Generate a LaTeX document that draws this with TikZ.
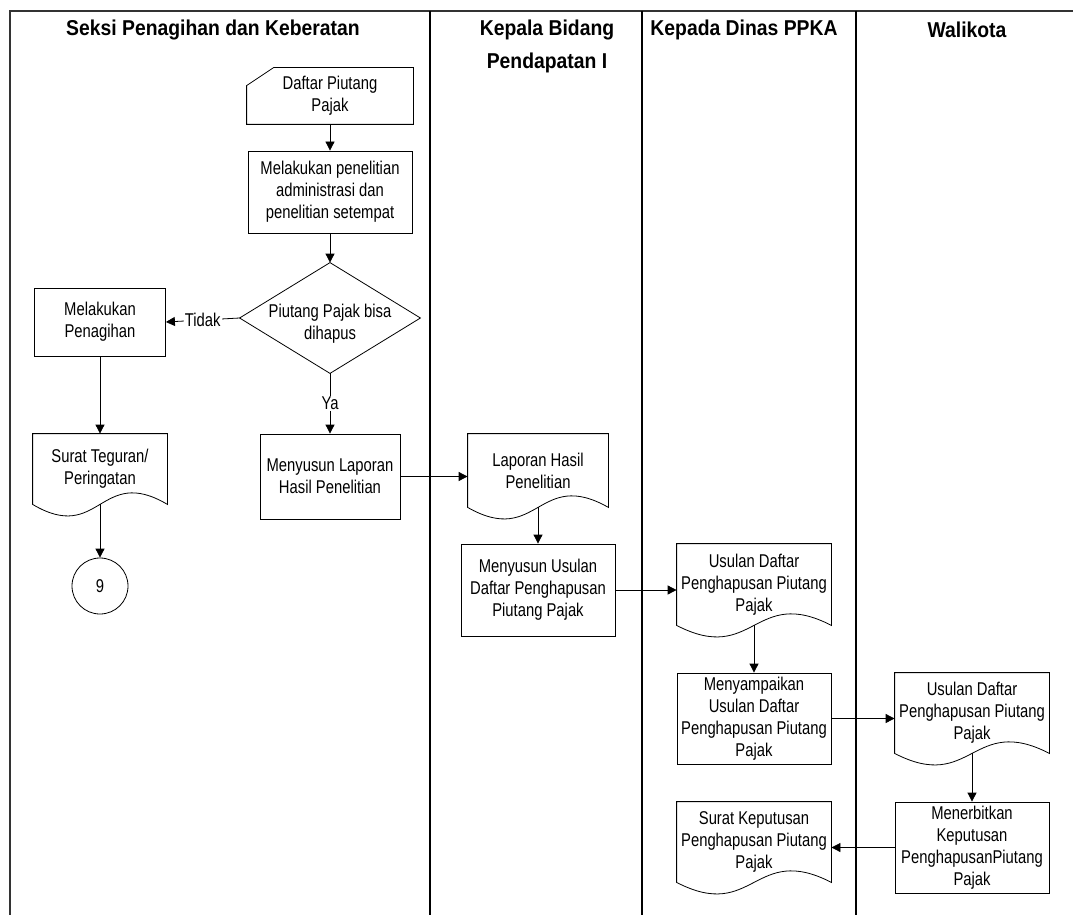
\documentclass[tikz,border=0pt]{standalone}
\usepackage{fontspec}
\setmainfont[FakeStretch=0.8]{Liberation Sans}
\newfontfamily\headfont[FakeStretch=0.9]{Liberation Sans}
\usetikzlibrary{arrows.meta,calc}

% outline of a document symbol drawn round a plain node
\newcommand{\docpath}[1]{%
  \draw (#1.south east) .. controls ($(#1.south)+(0,-40)$) and ($(#1.south)+(0,40)$) .. (#1.south west)
    -- (#1.north west) -- (#1.north east) -- cycle;}

\begin{document}
\begin{tikzpicture}[->, >={Triangle[length=9pt,width=9pt]}, x=1pt, y=-1pt, line width=0.8pt,
  font=\fontsize{18.5}{22}\selectfont]
\tikzstyle{procbox}=[draw, minimum width=154pt, minimum height=92pt, inner sep=0pt, align=center]
\tikzstyle{docbox}=[minimum width=154pt, minimum height=80pt, inner sep=0pt, align=center]
\tikzstyle{lanehead}=[font=\headfont\bfseries\fontsize{21.5}{33}\selectfont, align=center]
\tikzstyle{lbl}=[fill=white, inner sep=1pt]
\useasboundingbox (0,0) rectangle (1073,915);

% swimlanes
\draw[-, line width=1.6pt, black!80] (10,915) -- (10,11) -- (1073,11);
\foreach \x in {430,642,856}
  \draw[-, line width=1.6pt] (\x,11) -- (\x,915);
\node[lanehead] (hseksi) at (213,30) {Seksi Penagihan dan Keberatan};
\node[lanehead] (hkabid) at (547,46.5) {Kepala Bidang\\Pendapatan I};
\node[lanehead] (hdinas) at (744,30) {Kepada Dinas PPKA};
\node[lanehead] (hwali) at (967,30) {Walikota};

% seksi penagihan
\node[docbox, minimum width=166pt, minimum height=56pt] (daftar) at (330,96) {Daftar Piutang\\Pajak};
\draw (daftar.south west) -- ($(daftar.north west)+(0,18)$) -- ($(daftar.north west)+(27,0)$)
  -- (daftar.north east) -- (daftar.south east) -- cycle;
\node[procbox, minimum width=164pt, minimum height=82pt] (teliti) at (330,192) {Melakukan penelitian\\administrasi dan\\penelitian setempat};
\node[minimum width=180pt, minimum height=110pt, inner sep=0pt] (hapus) at (330,318) {};
\draw (hapus.north) -- (hapus.east) -- (hapus.south) -- (hapus.west) -- cycle;
\node[align=center] (hapustxt) at (330,324) {Piutang Pajak bisa\\dihapus};
\node[procbox, minimum width=131pt, minimum height=68pt] (tagih) at (100,322) {Melakukan\\Penagihan};
\node[docbox, minimum width=134pt, minimum height=70pt] (teguran) at (100,469) {Surat Teguran/\\Peringatan};
\docpath{teguran}
\node[draw, circle, minimum size=56pt, inner sep=0pt] (sembilan) at (100,586) {9};
\node[procbox, minimum width=140pt, minimum height=85pt] (susunlap) at (330,476.5) {Menyusun Laporan\\Hasil Penelitian};

% kepala bidang
\node[docbox, minimum width=140pt, minimum height=73pt] (laporan) at (538,470.5) {Laporan Hasil\\Penelitian};
\docpath{laporan}
\node[procbox] (susunusul) at (538,590) {Menyusun Usulan\\Daftar Penghapusan\\Piutang Pajak};

% kepala dinas
\node[docbox, minimum height=81pt] (usuldinas) at (754,584.5) {Usulan Daftar\\Penghapusan Piutang\\Pajak};
\docpath{usuldinas}
\node[procbox, minimum height=91pt] (sampaikan) at (754,718.5) {Menyampaikan\\Usulan Daftar\\Penghapusan Piutang\\Pajak};
\node[docbox] (keputusan) at (754,842) {Surat Keputusan\\Penghapusan Piutang\\Pajak};
\docpath{keputusan}

% walikota
\node[docbox] (usulwali) at (972,713) {Usulan Daftar\\Penghapusan Piutang\\Pajak};
\docpath{usulwali}
\node[procbox, minimum height=91pt] (terbit) at (972,847.5) {Menerbitkan\\Keputusan\\PenghapusanPiutang\\Pajak};

% alur
\draw (daftar.south) -- (teliti.north);
\draw (teliti.south) -- (hapus.north);
\draw (hapus.west) -- node[lbl] {Tidak} (tagih.east);
\draw (hapus.south) -- node[lbl] {Ya} (susunlap.north);
\draw (tagih.south) -- (teguran.north);
\draw (teguran.south) -- (sembilan.north);
\draw (susunlap.east) -- (susunlap.east -| laporan.west);
\draw (laporan.south) -- (susunusul.north);
\draw (susunusul.east) -- (susunusul.east -| usuldinas.west);
\draw (usuldinas.south) -- (sampaikan.north);
\draw (sampaikan.east) -- (sampaikan.east -| usulwali.west);
\draw (usulwali.south) -- (terbit.north);
\draw (terbit.west) -- (terbit.west -| keputusan.east);
\end{tikzpicture}
\end{document}
